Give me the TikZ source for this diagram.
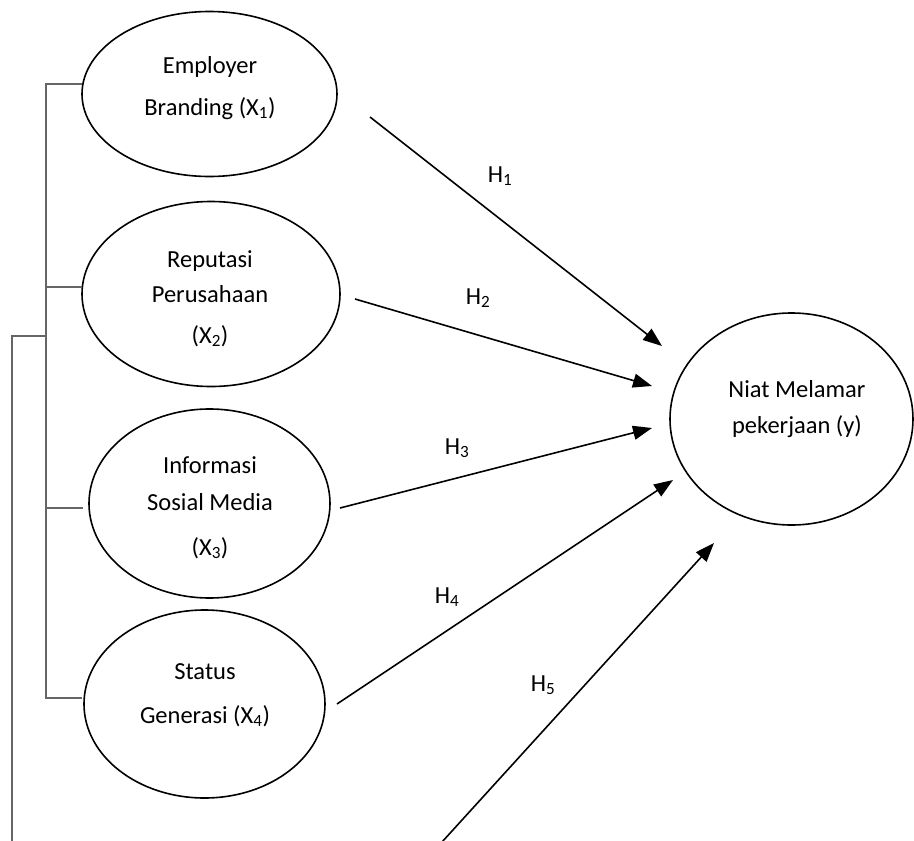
\documentclass[tikz,border=0pt]{standalone}
\usepackage{fontspec}
\setmainfont{Carlito}
\usetikzlibrary{arrows.meta,shapes.geometric}
\begin{document}
\begin{tikzpicture}[x=1pt,y=-1pt,
    var/.style={draw,ellipse,line width=1.6pt,inner sep=0pt},
    lbl/.style={align=center,anchor=base,inner sep=0pt,font=\fontsize{24.5}{40}\selectfont},
    hyp/.style={line width=1.6pt,-{Triangle[length=19pt,width=14pt]}},
    brk/.style={line width=1.1pt,draw=black!60}]
  \useasboundingbox (0,0) rectangle (914,841);
  % variables
  \node[var,minimum width=255pt,minimum height=165pt] (x1) at (209.5,94) {};
  \node[var,minimum width=258pt,minimum height=185pt] (x2) at (211,294) {};
  \node[var,minimum width=241pt,minimum height=189pt] (x3) at (209.5,503.5) {};
  \node[var,minimum width=241pt,minimum height=188pt] (x4) at (204.5,704) {};
  \node[var,minimum width=243pt,minimum height=212pt] (y) at (791.5,419) {};
  % texts (base = last line)
  \node[lbl] (x1t) at (210,115) {Employer\\[2pt]Branding (X\textsubscript{1})};
  \node[lbl] (x2t) at (210,343) {Reputasi\\[-5pt]Perusahaan\\[1pt](X\textsubscript{2})};
  \node[lbl] (x3t) at (210,555) {Informasi\\[-3pt]Sosial Media\\[5pt](X\textsubscript{3})};
  \node[lbl] (x4t) at (205,723) {Status\\[4pt]Generasi (X\textsubscript{4})};
  \node[lbl] (yt) at (797,433) {Niat Melamar\\[-4pt]pekerjaan (y)};
  % bracket
  \coordinate (k1) at (82,84);
  \coordinate (k2) at (82,287);
  \coordinate (k3) at (83,508);
  \coordinate (k4) at (82,698);
  \coordinate (v1) at (46,84);
  \coordinate (v2) at (46,287);
  \coordinate (v3) at (46,508);
  \coordinate (v4) at (46,698);
  \coordinate (vj) at (46,336);
  \coordinate (o1) at (12,336);
  \coordinate (o2) at (12,841);
  \draw[brk] (k1) -- (v1) -- (v4) -- (k4);
  \draw[brk] (v2) -- (k2);
  \draw[brk] (v3) -- (k3);
  \draw[brk] (vj) -- (o1) -- (o2);
  % hypotheses
  \coordinate (h1a) at (370,117);
  \coordinate (h1b) at (662,346);
  \coordinate (h2a) at (355,299);
  \coordinate (h2b) at (652,386);
  \coordinate (h3a) at (340,508);
  \coordinate (h3b) at (652,428);
  \coordinate (h4a) at (337,704);
  \coordinate (h4b) at (673,480);
  \coordinate (h5a) at (442,842);
  \coordinate (h5b) at (714,543);
  \draw[hyp] (h1a) -- (h1b);
  \draw[hyp] (h2a) -- (h2b);
  \draw[hyp] (h3a) -- (h3b);
  \draw[hyp] (h4a) -- (h4b);
  \draw[hyp] (h5a) -- (h5b);
  \node[lbl] (h1) at (500,182) {H\textsubscript{1}};
  \node[lbl] (h2) at (478,304) {H\textsubscript{2}};
  \node[lbl] (h3) at (457,454) {H\textsubscript{3}};
  \node[lbl] (h4) at (447,603) {H\textsubscript{4}};
  \node[lbl] (h5) at (543,691) {H\textsubscript{5}};
\end{tikzpicture}
\end{document}
